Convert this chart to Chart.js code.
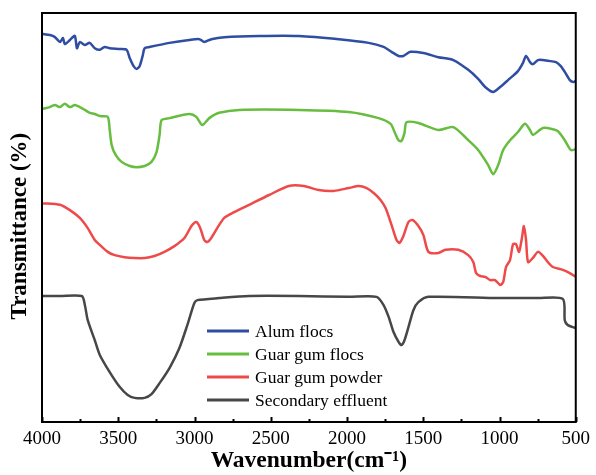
<!DOCTYPE html>
<html>
<head>
<meta charset="utf-8">
<script src="https://cdn.jsdelivr.net/npm/chart.js@4.4.0/dist/chart.umd.min.js"></script>
<style>
  html, body { margin: 0; padding: 0; background: #ffffff; }
  #wrap { width: 596px; height: 475px; }
</style>
</head>
<body>
<div id="wrap"><canvas id="ftirChart" width="596" height="475"></canvas></div>
<script>
const seriesLabels = ["Alum flocs", "Guar gum flocs", "Guar gum powder", "Secondary effluent"];
const seriesColors = ["#2f4ea3", "#67bd3f", "#ef4a4a", "#474747"];

const alumWn = [4000, 3948, 3915, 3882, 3863, 3850, 3817, 3785, 3771, 3752, 3719, 3687, 3654, 3621, 3589, 3556, 3491, 3445, 3425, 3399, 3380, 3360, 3340, 3327, 3295, 3164, 3034, 2968, 2936, 2890, 2805, 2576, 2315, 2054, 1858, 1760, 1708, 1662, 1630, 1584, 1499, 1401, 1303, 1205, 1140, 1094, 1042, 996, 944, 879, 846, 826, 800, 781, 748, 715, 683, 630, 598, 572, 539, 513, 500];
const alumT = [94.9, 94.6, 94.1, 92.9, 93.9, 92.4, 93.4, 94.4, 91.4, 92.9, 92.2, 92.7, 91.4, 91.0, 91.7, 91.4, 91.2, 91.0, 89.0, 87.0, 86.3, 87.0, 89.5, 91.4, 91.7, 92.7, 93.4, 93.6, 92.9, 93.6, 94.1, 94.4, 94.4, 93.6, 92.7, 91.7, 90.5, 89.5, 89.5, 90.5, 90.2, 89.2, 88.5, 86.1, 83.9, 81.9, 80.7, 81.9, 83.6, 85.8, 87.8, 89.5, 88.0, 87.5, 88.5, 88.5, 88.3, 88.0, 87.0, 85.6, 83.6, 83.1, 83.4];

const guarFlocWn = [4000, 3948, 3915, 3882, 3850, 3817, 3785, 3752, 3719, 3687, 3654, 3621, 3569, 3556, 3543, 3517, 3478, 3425, 3380, 3327, 3282, 3249, 3229, 3216, 3164, 3034, 2988, 2949, 2903, 2838, 2707, 2315, 1989, 1793, 1714, 1688, 1662, 1643, 1623, 1610, 1532, 1401, 1303, 1205, 1140, 1074, 1042, 1009, 976, 931, 879, 833, 800, 781, 715, 650, 617, 572, 532, 500];
const guarFlocT = [76.5, 77.0, 77.5, 77.0, 77.8, 77.0, 77.5, 77.0, 76.3, 75.6, 75.3, 74.8, 74.6, 71.4, 67.7, 65.3, 63.6, 62.6, 62.3, 62.6, 63.6, 66.0, 70.2, 73.8, 74.3, 75.3, 74.6, 72.6, 74.3, 75.6, 76.3, 76.3, 75.8, 74.3, 72.9, 70.9, 68.9, 68.7, 70.7, 73.3, 73.1, 71.4, 72.1, 68.9, 66.5, 62.8, 60.6, 62.8, 66.5, 68.9, 70.9, 72.9, 71.4, 70.2, 71.9, 71.6, 71.1, 68.9, 66.5, 66.7];

const guarPowderWn = [4000, 3882, 3817, 3752, 3700, 3654, 3621, 3569, 3523, 3458, 3393, 3327, 3262, 3197, 3132, 3066, 3020, 2988, 2962, 2936, 2916, 2890, 2851, 2805, 2740, 2642, 2511, 2381, 2283, 2185, 2087, 1989, 1923, 1871, 1825, 1780, 1747, 1708, 1675, 1656, 1630, 1597, 1571, 1532, 1499, 1466, 1401, 1355, 1270, 1205, 1172, 1153, 1127, 1094, 1061, 1029, 996, 976, 957, 931, 911, 892, 872, 853, 840, 826, 813, 781, 748, 715, 683, 650, 585, 539, 500];
const guarPowderT = [53.5, 53.1, 51.8, 49.9, 47.4, 44.5, 43.3, 41.6, 40.8, 40.3, 40.1, 40.1, 40.6, 41.6, 43.0, 45.0, 47.9, 48.9, 47.4, 44.5, 44.0, 45.0, 47.4, 49.9, 51.3, 53.1, 55.5, 57.7, 57.7, 56.7, 56.5, 57.2, 57.7, 57.2, 56.0, 54.3, 52.3, 48.2, 44.5, 43.8, 45.5, 48.9, 49.4, 47.9, 45.7, 41.6, 41.3, 42.1, 42.1, 40.8, 39.1, 36.4, 35.7, 35.5, 34.7, 34.7, 33.5, 34.2, 37.9, 39.6, 43.5, 43.5, 41.6, 45.0, 47.9, 44.5, 39.1, 40.1, 41.6, 40.6, 39.1, 37.9, 37.2, 36.4, 35.5];

const effluentWn = [4000, 3882, 3739, 3719, 3700, 3654, 3621, 3556, 3491, 3438, 3393, 3327, 3282, 3229, 3164, 3099, 3047, 3001, 2981, 2838, 2642, 2315, 1989, 1806, 1760, 1727, 1695, 1662, 1643, 1623, 1597, 1564, 1532, 1466, 1009, 748, 585, 572, 553, 519, 500];
const effluentT = [30.8, 30.8, 30.8, 28.6, 24.9, 20.0, 16.4, 12.2, 8.6, 6.6, 5.9, 5.9, 6.8, 9.5, 13.2, 18.1, 23.7, 29.1, 29.8, 30.3, 30.8, 30.8, 30.6, 30.6, 28.6, 25.7, 22.0, 19.6, 18.8, 20.0, 23.2, 27.4, 29.3, 30.6, 30.3, 30.3, 30.1, 24.9, 23.7, 23.2, 23.0];

const xTickValues = [4000, 3500, 3000, 2500, 2000, 1500, 1000, 500];

function toPoints(wn, t) {
  return wn.map((w, i) => ({ x: w, y: t[i] }));
}

// frame, inward ticks and the legend inside the plot
const framePlugin = {
  id: "framePlugin",
  afterDatasetsDraw(chart) {
    const { ctx, chartArea, scales } = chart;
    ctx.save();
    ctx.strokeStyle = "#000";
    ctx.lineWidth = 2;
    ctx.strokeRect(chartArea.left, chartArea.top, chartArea.right - chartArea.left, chartArea.bottom - chartArea.top);

    for (let w = 500; w <= 4000; w += 250) {
      const x = Math.round(scales.x.getPixelForValue(w)) + 0.5;
      const len = w % 500 === 0 ? 5 : 3;
      ctx.beginPath();
      ctx.moveTo(x, chartArea.bottom);
      ctx.lineTo(x, chartArea.bottom - len);
      ctx.stroke();
    }

    const rowY = [331, 354, 377, 400];
    ctx.font = "17.5px 'Liberation Serif', 'Times New Roman', serif";
    ctx.textBaseline = "middle";
    chart.data.datasets.forEach((ds, i) => {
      ctx.strokeStyle = ds.borderColor;
      ctx.lineWidth = 3;
      ctx.beginPath();
      ctx.moveTo(207, rowY[i]);
      ctx.lineTo(249, rowY[i]);
      ctx.stroke();
      ctx.fillStyle = "#000";
      ctx.fillText(ds.label, 255, rowY[i] + 1);
    });
    ctx.restore();
  },
};

const datasets = [
  [alumWn, alumT],
  [guarFlocWn, guarFlocT],
  [guarPowderWn, guarPowderT],
  [effluentWn, effluentT],
].map((pair, i) => ({
  label: seriesLabels[i],
  data: toPoints(pair[0], pair[1]),
  borderColor: seriesColors[i],
  backgroundColor: seriesColors[i],
  borderWidth: 2.5,
  pointRadius: 0,
  tension: 0.25,
}));

new Chart(document.getElementById("ftirChart"), {
  type: "line",
  data: { datasets },
  options: {
    responsive: false,
    animation: false,
    layout: { padding: { top: 13, right: 18, left: 0, bottom: 0 } },
    plugins: {
      legend: { display: false },
      tooltip: { enabled: false },
    },
    scales: {
      x: {
        type: "linear",
        reverse: true,
        min: 500,
        max: 4000,
        afterFit: (scale) => { scale.height = 53; },
        afterBuildTicks: (scale) => { scale.ticks = xTickValues.map((v) => ({ value: v })); },
        grid: { display: false, drawTicks: false },
        border: { display: false },
        ticks: {
          padding: 6,
          color: "#000",
          maxRotation: 0,
          font: { family: "'Liberation Serif', serif", size: 19 },
          callback: (v) => String(v),
        },
        title: {
          display: true,
          text: "Wavenumber(cm⁻¹)",
          color: "#000",
          padding: { top: 0, bottom: 0 },
          font: { family: "'Liberation Serif', serif", size: 23.5, weight: "bold" },
        },
      },
      y: {
        min: 0,
        max: 100,
        afterFit: (scale) => { scale.width = 42; },
        grid: { display: false, drawTicks: false },
        border: { display: false },
        ticks: { display: false },
        title: {
          display: true,
          text: "Transmittance (%)   ",
          color: "#000",
          padding: { top: 6, bottom: 0 },
          font: { family: "'Liberation Serif', serif", size: 23, weight: "bold" },
        },
      },
    },
  },
  plugins: [framePlugin],
});
</script>
</body>
</html>
